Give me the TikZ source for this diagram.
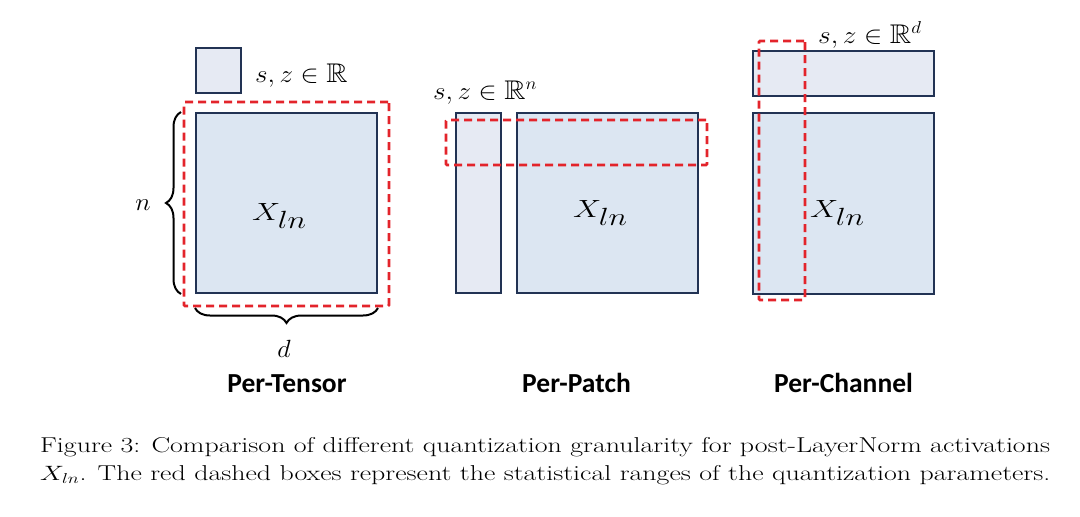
\documentclass[tikz,border=0pt]{standalone}
\usepackage{amsmath,amssymb,graphicx}
\usepackage{fontspec}
\newfontfamily\lblfont{Carlito}
\usetikzlibrary{fit,decorations.pathreplacing}
\definecolor{navy}{HTML}{223354}
\definecolor{bigfill}{HTML}{DCE6F2}
\definecolor{smallfill}{HTML}{E6EAF3}
\definecolor{qred}{HTML}{E3242B}
\newcommand{\hstr}[2]{\scalebox{#1}[1]{#2}}
\begin{document}
\begin{tikzpicture}[x=1pt,y=-1pt,
  bigbox/.style={draw=navy,fill=bigfill,line width=2pt,inner sep=0pt},
  parbox/.style={draw=navy,fill=smallfill,line width=2pt,inner sep=0pt},
  rangebox/.style={draw=qred,line width=2.7pt,dash pattern=on 8pt off 5pt,rounded corners=1pt,inner sep=0pt},
  bracestyle/.style={draw=black,line width=2pt,decorate,decoration={brace,amplitude=15pt}},
  mathlbl/.style={inner sep=0pt,anchor=base west,font=\fontsize{27}{30}\selectfont},
  xlbl/.style={inner sep=0pt,anchor=base west,font=\fontsize{40}{44}\selectfont},
  dimlbl/.style={inner sep=0pt,anchor=base,font=\fontsize{27}{30}\selectfont},
  titlelbl/.style={inner sep=0pt,anchor=base,font=\lblfont\bfseries\fontsize{27.5}{30}\selectfont},
  capline/.style={inner sep=0pt,anchor=base west,font=\fontsize{21.5}{28}\selectfont}
]
\useasboundingbox[fill=white] (0,0) rectangle (1080,517);

% ---------- Per-Tensor ----------
\node[parbox,fit={(196,48)(241,93)}] (tpar) {};
\node[bigbox,fit={(196,113)(377,293)}] (tbig) {};
\node[mathlbl] (tlab) at (255,82) {\hstr{1.09}{$s,z\in\mathbb{R}$}};
\node[xlbl] (tx) at (252,220) {\hstr{1.27}{$X_{ln}$}};
\node[rangebox,fit={(184,102)(389,306)}] (trange) {};
\coordinate (nb) at ([xshift=-14pt]tbig.south west);
\coordinate (nt) at ([xshift=-14pt]tbig.north west);
\draw[bracestyle] (nb) -- (nt);
\coordinate (dr) at ([yshift=-14pt]tbig.south east);
\coordinate (dl) at ([yshift=-14pt]tbig.south west);
\draw[bracestyle] (dr) -- (dl);
\node[dimlbl] (nlab) at (143,210) {\hstr{1.05}{$n$}};
\node[dimlbl] (dlab) at (284,357) {\hstr{1.05}{$d$}};
\node[titlelbl] (ttitle) at (287,392) {Per-Tensor};

% ---------- Per-Patch ----------
\node[parbox,fit={(456,113)(501,293)}] (ppar) {};
\node[bigbox,fit={(517,113)(698,293)}] (pbig) {};
\node[mathlbl] (plab) at (433,99) {\hstr{1.09}{$s,z\in\mathbb{R}^n$}};
\node[xlbl] (px) at (573,217) {\hstr{1.27}{$X_{ln}$}};
\node[rangebox,fit={(446,120)(707,165)}] (prange) {};
\node[titlelbl] (ptitle) at (576.5,392) {Per-Patch};

% ---------- Per-Channel ----------
\node[parbox,fit={(753,51)(934,96)}] (cpar) {};
\node[bigbox,fit={(753,113)(934,294)}] (cbig) {};
\node[mathlbl] (clab) at (818,43) {\hstr{1.1}{$s,z\in\mathbb{R}^d$}};
\node[xlbl] (cx) at (810,217) {\hstr{1.27}{$X_{ln}$}};
\node[rangebox,fit={(759,41)(805,300)}] (crange) {};
\node[titlelbl] (ctitle) at (843.5,392) {Per-Channel};

% ---------- Caption ----------
\node[capline] (cap1) at (40,452.7) {\hstr{1.298}{\makebox[778pt][s]{Figure 3: Comparison of different quantization granularity for post-LayerNorm activations}}};
\node[capline] (cap2) at (40,480.7) {\hstr{1.298}{$X_{ln}$. The red dashed boxes represent the statistical ranges of the quantization parameters.}};
\end{tikzpicture}
\end{document}
